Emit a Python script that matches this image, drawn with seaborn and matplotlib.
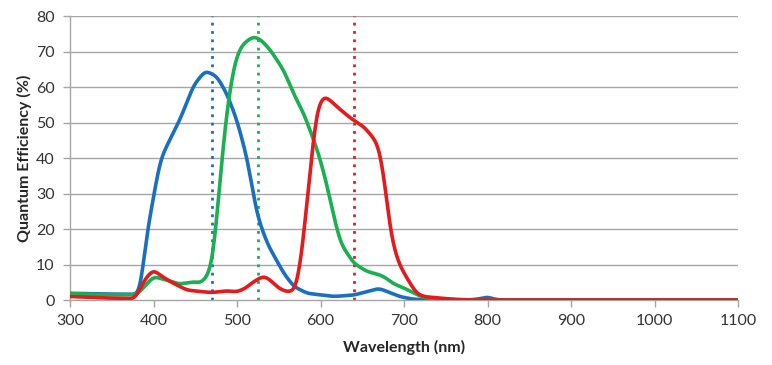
import numpy as np
import pandas as pd
import seaborn as sns
from matplotlib import pyplot as plt

# wavelength (nm) / quantum efficiency (%)
blue_wl = [300, 340, 380, 384, 392, 400, 408, 416, 432, 448, 462, 476, 488, 500, 512,
           524, 536, 556, 568, 584, 616, 640, 656, 670, 684, 696, 712, 730, 780, 795,
           800, 805, 815, 900, 1000, 1100]
blue_qe = [1.9, 1.7, 1.6, 2.5, 18.7, 29, 39.4, 43.5, 51, 60.5, 64.6, 63, 58, 50.6, 40,
           24, 16, 7.5, 3.8, 1.9, 1.0, 1.4, 2.4, 3.3, 2.0, 0.9, 0.2, 0.05, 0.05, 0.5,
           1.0, 0.4, 0.0, 0.0, 0.0, 0.0]

green_wl = [300, 340, 380, 390, 400, 410, 420, 430, 445, 450, 456, 464, 470, 476, 482,
            488, 496, 504, 516, 522, 530, 540, 556, 568, 580, 592, 600, 608, 616, 624,
            640, 656, 668, 676, 688, 700, 712, 724, 740, 760, 800, 1100]
green_qe = [1.8, 1.5, 1.5, 4.0, 6.6, 6.0, 5.3, 4.5, 5.0, 5.2, 4.7, 6.6, 10, 23.5, 40,
            53.5, 65.7, 71.3, 73.8, 74.2, 73, 70.4, 64.7, 58, 52.5, 45, 39.4, 32, 23.5, 16,
            10.3, 8.0, 7.3, 6.6, 4.5, 3.4, 1.9, 0.7, 0.3, 0.1, 0.0, 0.0]

red_wl = [300, 340, 378, 385, 392, 400, 408, 420, 440, 460, 470, 488, 500, 510, 520,
          532, 540, 550, 560, 568, 572, 578, 584, 590, 596, 604, 612, 620, 632, 640,
          652, 664, 670, 676, 684, 692, 699, 707, 715, 723, 740, 760, 780, 1100]
red_qe = [1.0, 0.6, 0.4, 3.8, 6.6, 8.5, 7.0, 5.2, 2.8, 2.3, 2.1, 2.6, 2.3, 3.3, 5.2,
          6.8, 5.6, 3.3, 2.3, 2.6, 4.7, 14, 28, 42, 54, 57.5, 56.2, 54.4, 52, 50.6,
          48.8, 45.5, 43, 34.7, 18.8, 11.3, 8.0, 4.8, 1.9, 1.0, 0.6, 0.2, 0.0, 0.0]

peak_wl = [470, 525, 640]
colors = ['#1A6FBF', '#1AAF50', '#E31B1C']
names = ['Blue', 'Green', 'Red']


def build_frame():
    frames = []
    for name, wl, qe in zip(names, [blue_wl, green_wl, red_wl], [blue_qe, green_qe, red_qe]):
        # dense grid + light smoothing so the traced points read as a curve
        x = np.arange(wl[0], wl[-1] + 1, 1.0)
        y = np.interp(x, wl, qe)
        k = np.exp(-0.5 * (np.arange(-8, 9) / 3.5) ** 2)
        k /= k.sum()
        y = np.convolve(np.pad(y, 8, mode='edge'), k, mode='valid')
        frames.append(pd.DataFrame({'wl': x, 'qe': y, 'channel': name}))
    return pd.concat(frames, ignore_index=True)


def main():
    sns.set_style('white')
    plt.rcParams['font.family'] = ['Lato', 'DejaVu Sans']

    data = build_frame()
    fig = plt.figure(figsize=(7.72, 3.65), dpi=100)
    ax = fig.add_axes([0.0907, 0.178, 0.8653, 0.778])

    for y in range(10, 81, 10):
        ax.axhline(y, color='#A6A6A6', lw=1, zorder=0)

    sns.lineplot(data=data, x='wl', y='qe', hue='channel', palette=colors,
                 hue_order=names, lw=2.6, legend=False, ax=ax, zorder=3)

    for wl, c in zip(peak_wl, colors):
        ax.axvline(wl, color=c, lw=2, ls=(0, (1, 2)), zorder=2)

    ax.set_xlim(300, 1100)
    ax.set_ylim(0, 80)
    ax.set_xticks(range(300, 1101, 100))
    ax.set_yticks(range(0, 81, 10))
    ax.tick_params(axis='both', which='both', length=5, width=1, color='#A6A6A6',
                   labelsize=11.5, labelcolor='#333333', direction='out')
    ax.tick_params(axis='y', pad=6)
    ax.tick_params(axis='x', pad=5)
    ax.tick_params(left=True, bottom=True)
    for side in ['top', 'right']:
        ax.spines[side].set_visible(False)
    for side in ['left', 'bottom']:
        ax.spines[side].set_color('#A6A6A6')
        ax.spines[side].set_linewidth(1)
    ax.set_xlabel('Wavelength (nm)', fontsize=11.5, fontweight='bold', labelpad=9)
    ax.set_ylabel('Quantum Efficiency (%)', fontsize=11.5, fontweight='bold', labelpad=3)

    plt.savefig('out.png', dpi=100)
    plt.close()


if __name__ == '__main__':
    main()
